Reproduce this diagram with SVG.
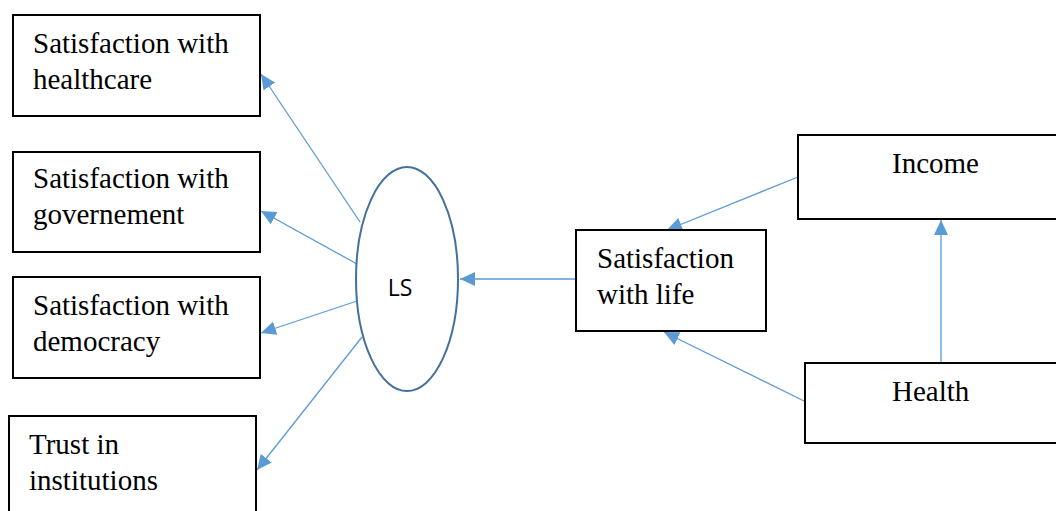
<svg xmlns="http://www.w3.org/2000/svg" width="1056" height="511" viewBox="0 0 1056 511">
<style>
.box{fill:#fff;stroke:#000;stroke-width:2}
.t{font-family:"Liberation Serif","Times New Roman",serif;font-size:29px;fill:#000}
.c{stroke:#5b9bd5;stroke-width:1.3;fill:none;marker-end:url(#ah)}
</style>
<defs>
<marker id="ah" markerUnits="userSpaceOnUse" markerWidth="16" markerHeight="14" refX="15" refY="7" orient="auto">
<path d="M0,0 L15,7 L0,14 Z" fill="#5b9bd5"/>
</marker>
</defs>
<g id="connectors">
<line class="c" x1="360" y1="222" x2="261" y2="74"/>
<line class="c" x1="357" y1="264" x2="261" y2="211"/>
<line class="c" x1="357" y1="301" x2="261" y2="333"/>
<line class="c" x1="362" y1="337" x2="257" y2="470"/>
<line class="c" x1="576" y1="279" x2="460" y2="279"/>
<line class="c" x1="798" y1="177" x2="667" y2="230"/>
<line class="c" x1="804" y1="401" x2="664" y2="332"/>
<line class="c" x1="941" y1="363" x2="941" y2="220"/>
</g>
<g id="n-healthcare">
<rect class="box" x="13" y="15" width="247" height="101"/>
<text class="t" x="33" y="53">Satisfaction with</text>
<text class="t" x="33" y="89">healthcare</text>
</g>
<g id="n-government">
<rect class="box" x="13" y="152" width="247" height="100"/>
<text class="t" x="33" y="188">Satisfaction with</text>
<text class="t" x="33" y="224">governement</text>
</g>
<g id="n-democracy">
<rect class="box" x="13" y="277" width="247" height="101"/>
<text class="t" x="33" y="315">Satisfaction with</text>
<text class="t" x="33" y="351">democracy</text>
</g>
<g id="n-trust">
<rect class="box" x="9" y="416" width="247" height="110"/>
<text class="t" x="29" y="454">Trust in</text>
<text class="t" x="29" y="490">institutions</text>
</g>
<g id="n-ls">
<ellipse cx="407" cy="279" rx="51" ry="112" fill="#fff" stroke="#41719c" stroke-width="2"/>
<text x="400" y="296" font-family="Open Sans, Liberation Sans, sans-serif" font-size="23" text-anchor="middle" fill="#000">LS</text>
</g>
<g id="n-life">
<rect class="box" x="576" y="230" width="190" height="101"/>
<text class="t" x="597" y="268">Satisfaction</text>
<text class="t" x="597" y="304">with life</text>
</g>
<g id="n-income">
<rect class="box" x="798" y="135" width="280" height="84"/>
<text class="t" x="892" y="173">Income</text>
</g>
<g id="n-health">
<rect class="box" x="805" y="363" width="280" height="80"/>
<text class="t" x="892" y="401">Health</text>
</g>
</svg>
